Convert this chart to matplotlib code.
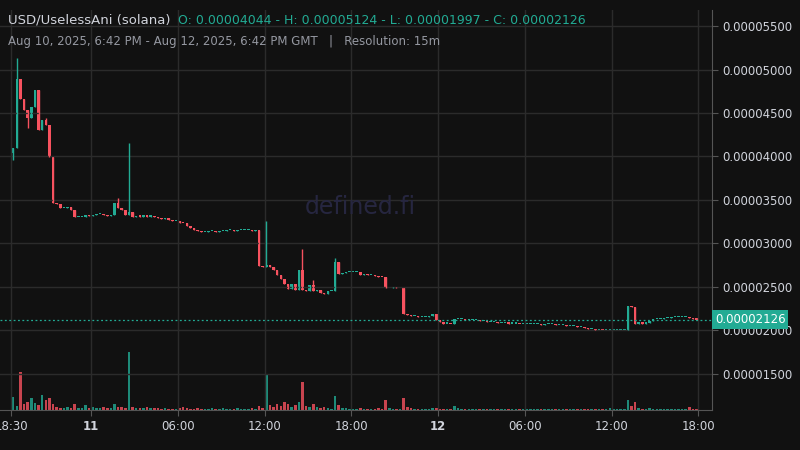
import matplotlib
matplotlib.use("Agg")
import matplotlib.pyplot as plt
from matplotlib.ticker import FixedLocator, FuncFormatter

# prices in units of 1e-6 USD, 15m candles starting Aug 10 18:30 (hours relative to Aug 11 00:00)
start_h = -5.5
first_open = 40.4
closes = [41.0, 48.9, 46.6, 45.3, 44.4, 45.7, 47.6, 43.0, 44.2, 43.6,
          39.9, 34.7, 34.5, 34.1, 34.1, 34.2, 33.9, 33.0, 33.0, 33.1,
          33.3, 33.2, 33.3, 33.4, 33.4, 33.3, 33.2, 33.3, 34.7, 34.1,
          33.8, 33.3, 33.6, 33.0, 33.2, 33.1, 33.2, 33.1, 33.2, 33.0,
          32.9, 32.8, 32.9, 32.7, 32.6, 32.6, 32.4, 32.3, 32.0, 31.8,
          31.5, 31.4, 31.3, 31.3, 31.4, 31.4, 31.3, 31.4, 31.4, 31.5,
          31.5, 31.4, 31.5, 31.5, 31.5, 31.5, 31.4, 31.5, 27.4, 27.3,
          27.5, 27.3, 27.0, 26.4, 25.9, 25.3, 24.8, 25.4, 24.6, 27.0,
          24.6, 24.5, 25.2, 24.5, 24.6, 24.3, 24.2, 24.5, 24.5, 27.9,
          26.5, 26.6, 26.7, 26.7, 26.7, 26.7, 26.4, 26.5, 26.4, 26.4,
          26.3, 26.2, 26.1, 24.9, 24.9, 25.0, 24.9, 24.9, 21.9, 21.8,
          21.7, 21.7, 21.5, 21.6, 21.6, 21.7, 21.9, 21.2, 21.0, 20.8,
          20.8, 20.7, 21.3, 21.3, 21.3, 21.2, 21.2, 21.2, 21.2, 21.1,
          21.1, 21.0, 21.0, 21.0, 20.9, 20.9, 20.9, 20.8, 20.8, 20.8,
          20.7, 20.7, 20.7, 20.7, 20.7, 20.7, 20.6, 20.7, 20.7, 20.7,
          20.6, 20.6, 20.6, 20.5, 20.5, 20.5, 20.4, 20.4, 20.3, 20.2,
          20.2, 20.1, 20.1, 20.0, 20.0, 20.0, 20.0, 20.0, 20.1, 20.1,
          22.8, 22.7, 20.8, 20.9, 20.8, 20.9, 21.1, 21.3, 21.3, 21.3,
          21.4, 21.4, 21.5, 21.5, 21.5, 21.6, 21.6, 21.4, 21.3, 21.26]
spike_high = {1: 51.3, 9: 44.4, 29: 35.2, 32: 41.6, 70: 32.6, 80: 29.4, 83: 25.8, 89: 28.3}
spike_low = {4: 43.3, 0: 39.6}
# volume (relative)
volumes = [13, 4, 38, 6, 8, 12, 7, 5, 15, 10, 12, 6, 3, 2, 2, 3, 2, 6, 2, 2,
           5, 2, 3, 2, 2, 3, 2, 2, 6, 3, 3, 2, 58, 3, 2, 2, 2, 3, 2, 2,
           2, 1, 2, 1, 1, 1, 2, 3, 2, 1, 1, 2, 1, 1, 1, 2, 1, 1, 2, 1,
           1, 1, 2, 1, 1, 1, 2, 1, 4, 2, 36, 5, 3, 6, 4, 8, 6, 3, 5, 8,
           28, 4, 3, 6, 3, 2, 3, 2, 1, 14, 5, 2, 2, 1, 1, 1, 2, 1, 1, 1,
           1, 2, 1, 10, 2, 1, 1, 1, 12, 3, 2, 1, 1, 1, 1, 1, 2, 2, 1, 1,
           1, 1, 4, 2, 1, 1, 1, 1, 1, 1, 1, 1, 1, 1, 1, 1, 1, 1, 1, 1,
           1, 1, 1, 1, 1, 1, 1, 1, 1, 1, 1, 1, 1, 1, 1, 1, 1, 1, 1, 1,
           1, 1, 1, 1, 1, 2, 1, 1, 1, 1, 10, 4, 8, 2, 1, 1, 2, 1, 1, 1,
           1, 1, 1, 1, 1, 1, 1, 3, 1, 1]
last_price = 21.26
y_ticks = [15, 20, 25, 30, 35, 40, 45, 50, 55]
x_ticks = [-5.5, 0, 6, 12, 18, 24, 30, 36, 42]
x_labels = ["18:30", "11", "06:00", "12:00", "18:00", "12", "06:00", "12:00", "18:00"]

GREEN = "#22ab94"
RED = "#f7525f"
BG = "#111111"
TXT = "#d1d4dc"

fig = plt.figure(figsize=(8, 4.5), dpi=100, facecolor=BG)
ax = fig.add_axes([0, 40/450, 712/800, 400/450])
ax.set_facecolor(BG)
axv = ax.twinx()
ax.set_zorder(2)
axv.set_zorder(1)
ax.patch.set_visible(False)
fig.patch.set_facecolor(BG)

opens = [first_open] + closes[:-1]
w = 0.25 * 0.7
for i, c in enumerate(closes):
    o = opens[i]
    t = start_h + 0.125 + i * 0.25
    col = GREEN if c >= o else RED
    hi = spike_high.get(i, max(o, c))
    lo = spike_low.get(i, min(o, c))
    ax.vlines(t, lo, hi, color=col, lw=1)
    body = max(abs(c - o), 0.12)
    ax.bar(t, body, bottom=min(o, c), width=w, color=col, lw=0)
    axv.bar(t, volumes[i], width=w, color=col, alpha=0.8, lw=0)

axv.set_ylim(0, 400)
axv.set_yticks([])
ax.set_xlim(-6.29, 42.94)
ax.set_ylim(10.86, 56.84)

ax.axhline(last_price, color=GREEN, ls=(0, (1.5, 2)), lw=0.9)
ax.grid(True, color="#2b2b2b", lw=1)
ax.yaxis.tick_right()
ax.yaxis.set_major_locator(FixedLocator(y_ticks))
ax.yaxis.set_major_formatter(FuncFormatter(lambda v, p: "%.8f" % (v / 1e6)))
ax.set_xticks(x_ticks)
ax.set_xticklabels(x_labels)
for lab in ax.get_xticklabels():
    if lab.get_text() in ("11", "12"):
        lab.set_fontweight("bold")
ax.tick_params(colors=TXT, labelsize=8.5, length=4)
ax.tick_params(axis="x", color="#555555")
ax.tick_params(axis="y", color="#555555")
for s in ["top", "left"]:
    ax.spines[s].set_visible(False)
    axv.spines[s].set_visible(False)
ax.spines["right"].set_color("#555555")
ax.spines["bottom"].set_color("#555555")
axv.spines["right"].set_visible(False)
axv.spines["bottom"].set_visible(False)

ax.text(1.004, last_price, "%.8f" % (last_price / 1e6), transform=ax.get_yaxis_transform(),
        va="center", ha="left", fontsize=8.5, color="#ffffff",
        bbox=dict(boxstyle="square,pad=0.25", fc=GREEN, ec="none"))

fig.text(360/800, 1 - 207/450, "defined.fi", color="#262640", fontsize=17, ha="center", va="center")
fig.text(8/800, 1 - 20/450, "USD/UselessAni (solana)", color=TXT, fontsize=9.5, va="center")
fig.text(178/800, 1 - 20/450, "O: 0.00004044 - H: 0.00005124 - L: 0.00001997 - C: 0.00002126",
         color=GREEN, fontsize=9, va="center")
fig.text(8/800, 1 - 41/450, "Aug 10, 2025, 6:42 PM - Aug 12, 2025, 6:42 PM GMT   |   Resolution: 15m",
         color="#9598a1", fontsize=8.5, va="center")

fig.savefig("out.png", dpi=100, facecolor=BG)
